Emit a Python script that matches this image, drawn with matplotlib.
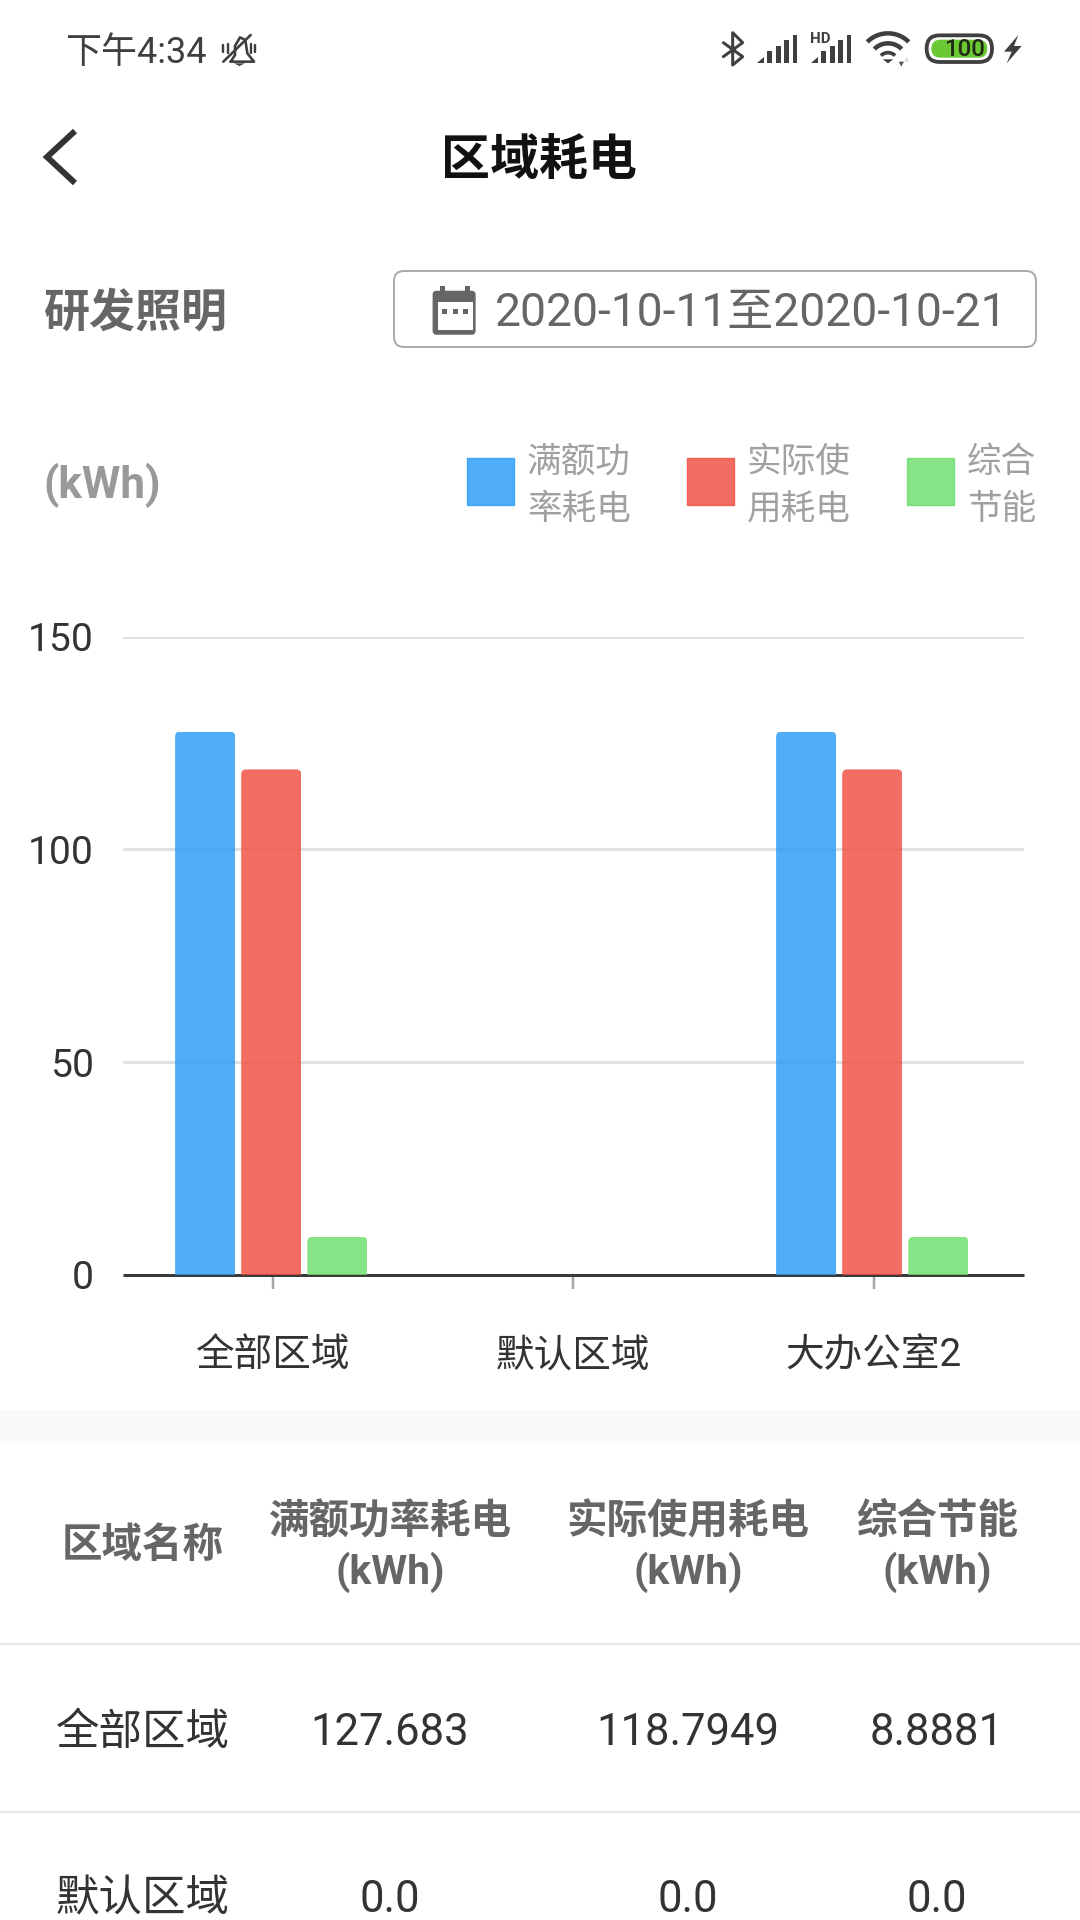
import numpy as np
import matplotlib
matplotlib.use('Agg')
import matplotlib.pyplot as plt
from matplotlib.patches import FancyBboxPatch, Rectangle, Polygon
from matplotlib.legend_handler import HandlerPatch
from matplotlib.transforms import IdentityTransform

plt.rcParams['font.family'] = ['Roboto', 'Noto Sans CJK SC', 'DejaVu Sans']

regions = ['全部区域', '默认区域', '大办公室2']
series_names = ['满额功率耗电', '实际使用耗电', '综合节能']
legend_labels = ['满额功\n率耗电', '实际使\n用耗电', '综合\n节能']
rated = [127.683, 0.0, 127.683]
actual = [118.7949, 0.0, 118.7949]
saved = [8.8881, 0.0, 8.8881]
yticks = [0, 50, 100, 150]
table_regions = ['全部区域', '默认区域']
table_rated = ['127.683', '0.0']
table_actual = ['118.7949', '0.0']
table_saved = ['8.8881', '0.0']
colors = ['#239AF5', '#F14A3B', '#68DE68']

W, H = 1080, 1920
PX = 0.72  # points per pixel at dpi 100
fig = plt.figure(figsize=(W / 100, H / 100), dpi=100, facecolor='white')

# ---- chart
x0, x1, ytop, ybot = 122.5, 1024, 636.7, 1274.7
ax = fig.add_axes([x0 / W, 1 - ybot / H, (x1 - x0) / W, (ybot - ytop) / H])
ax.patch.set_alpha(0)
ax.set_xlim(-0.5, 2.5)
ax.set_ylim(0, 150)
for s in ['top', 'left', 'right']:
    ax.spines[s].set_visible(False)
ax.spines['bottom'].set_color('#3A3A3A')
ax.spines['bottom'].set_linewidth(3 * PX)
ax.spines['bottom'].set_capstyle('butt')
ax.spines['bottom'].set_zorder(1.5)
ax.set_yticks(yticks)
ax.set_xticks(range(len(regions)))
ax.set_xticklabels(regions)
ax.tick_params(axis='y', length=0, labelsize=39 * PX, labelcolor='#333333', pad=(122.5 - 94) * PX)
ax.tick_params(axis='x', length=14 * PX, width=2.5 * PX, color='#A5A7AA',
               labelsize=38.6 * PX, labelcolor='#333333', pad=48.5 * PX)
ax.yaxis.grid(True, color='#DFE2E5', linewidth=3 * PX, zorder=0)
ax.set_axisbelow(True)

xs = np.arange(len(regions)) - 0.005
bw, off = 0.2, 0.22
containers = []
for i, (vals, c, name) in enumerate(zip([rated, actual, saved], colors, series_names)):
    containers.append(ax.bar(xs + (i - 1) * off, vals, bw, color=c, alpha=0.8, label=name, zorder=2))

# rounded top corners through a clip shape derived from each bar
fig.canvas.draw()
for cont in containers:
    for r in cont:
        if r.get_height() <= 0:
            continue
        (a, b), (c_, d) = ax.transData.transform(
            [(r.get_x(), 0), (r.get_x() + r.get_width(), r.get_height())])
        clip = FancyBboxPatch((a + 4, b - 20), c_ - a - 8, d - b + 16,
                              boxstyle='round,pad=4,rounding_size=5',
                              transform=IdentityTransform())
        r.set_clip_path(clip)

# ---- legend
def make_handle(legend, orig_handle, xdescent, ydescent, width, height, fontsize):
    return Rectangle((-xdescent, -ydescent + 2 * PX), width, width, lw=0)

fs = 34.6 * PX
handles = [Rectangle((0, 0), 1, 1, color=c, alpha=0.8) for c in colors]
leg = fig.legend(handles, legend_labels, ncol=3, frameon=False, loc='center right',
                 bbox_to_anchor=(1036 / W, 1 - 486 / H), fontsize=fs,
                 labelcolor='#A0A0A0', borderpad=0, borderaxespad=0,
                 handlelength=46.5 / 34.6, handleheight=46.5 / 34.6, handletextpad=13 / 34.6,
                 columnspacing=56.6 / 34.6,
                 handler_map={Rectangle: HandlerPatch(patch_func=make_handle)})
for t in leg.get_texts():
    t.set_linespacing(1.57)

# ---- overlay for the surrounding screen, in pixel coordinates
ov = fig.add_axes([0, 0, 1, 1], zorder=5)
ov.set_xlim(0, W)
ov.set_ylim(H, 0)
ov.axis('off')
ov.patch.set_alpha(0)

def txt(x, y, s, px, color, ha='center', weight='normal', **kw):
    return ov.text(x, y, s, fontsize=px * PX, color=color, ha=ha, va='center',
                   fontweight=weight, **kw)

def line(pts, color='#3F3F3F', lw=3, cap='round', join='round'):
    p = np.array(pts, float)
    ov.plot(p[:, 0], p[:, 1], color=color, lw=lw * PX, solid_capstyle=cap, solid_joinstyle=join)

# status bar, left
txt(65, 53, '下午4:34', 36, '#3F3F3F', ha='left')
B = lambda zx, zy: (60 + zx / 3, 20 + zy / 3)
line([B(490, 125), B(572, 45)], lw=2.6)
line([B(512, 125), B(525, 105), B(525, 78), B(540, 52), B(556, 60), B(562, 100), B(582, 125), B(512, 125)], lw=2.6)
line([B(490, 75), B(490, 95)], lw=2.4)
line([B(503, 72), B(503, 98)], lw=2.4)
line([B(572, 72), B(572, 98)], lw=2.4)
line([B(586, 75), B(586, 95)], lw=2.4)
ov.add_patch(Polygon([B(522, 130), B(555, 130), B(538, 138)], color='#3F3F3F', lw=0))

# status bar, right
S = lambda zx, zy: (710 + zx / 3, 20 + zy / 3)
line([S(40, 68), S(98, 110), S(68, 135), S(68, 38), S(98, 68), S(40, 110)], lw=3)
for dx in (0, 162):
    ov.add_patch(Polygon([S(142 + dx, 128), S(162 + dx, 128), S(162 + dx, 112)], color='#3F3F3F', lw=0))
    for bx, bt in [(172, 92), (198, 78), (223, 60), (248, 44)]:
        a, b = S(bx + dx, bt)
        ov.add_patch(Rectangle((a, b), 14 / 3, (128 - bt) / 3, color='#3F3F3F', lw=0))
hx, hy = S(332, 56)
txt(hx, hy, 'HD', 15, '#3F3F3F', weight='bold')
wc = np.array(S(534, 128))
for r, wl in [(88 / 3, 4.5), (58 / 3, 4.5), (30 / 3, 3.6)]:
    th = np.radians(np.linspace(-135, -45, 24))
    line(np.c_[wc[0] + r * np.cos(th), wc[1] + r * np.sin(th)], lw=wl, cap='butt')
ov.add_patch(Polygon([S(518, 118), S(550, 118), S(534, 130)], color='#3F3F3F', lw=0))
ov.add_patch(Polygon([S(566, 125), S(582, 125), S(574, 140)], color='#555555', lw=0))
ov.add_patch(Polygon([S(582, 125), S(598, 125), S(590, 110)], color='#DDDDDD', lw=0))
a, b = S(650, 46)
ov.add_patch(FancyBboxPatch((a + 12, b + 12), 196 / 3 - 24, 80 / 3 - 24,
                            boxstyle='round,pad=12,rounding_size=13', fc='white', ec='#3F3F3F', lw=3.8 * PX))
a, b = S(664, 59)
ov.add_patch(FancyBboxPatch((a + 8, b + 8), 168 / 3 - 16, 54 / 3 - 16,
                            boxstyle='round,pad=8,rounding_size=9', fc='#6CC832', ec='none'))
bx, by = S(762, 88)
txt(bx, by, '100', 24, '#1F2A14', weight='medium')
ov.add_patch(Polygon([S(925, 45), S(882, 95), S(905, 95), S(890, 130), S(935, 78), S(912, 78)],
                     color='#3F3F3F', lw=0))

# nav bar
line([(75, 131), (47, 157), (75, 183)], color='#333333', lw=6, cap='butt', join='miter')
txt(539, 162, '区域耗电', 49, '#111111', weight='bold')

# filter row
txt(44, 314, '研发照明', 46, '#666666', ha='left', weight='bold')
ov.add_patch(FancyBboxPatch((404, 281), 622, 56, boxstyle='round,pad=10,rounding_size=10',
                            fc='white', ec='#ABABAB', lw=2 * PX))
C = lambda zx, zy: (420 + zx * 70 / 200, 275 + zy * 70 / 200)
a, b = C(36, 45)
ov.add_patch(FancyBboxPatch((a + 4, b + 4), 43 - 8, 44 - 8, boxstyle='round,pad=4,rounding_size=4',
                            fc='#666666', ec='none'))
for zx in (57, 128):
    a, b = C(zx, 30)
    ov.add_patch(Rectangle((a, b), 5, 7, color='#666666', lw=0))
a, b = C(50, 78)
ov.add_patch(Rectangle((a, b), 35, 28, color='white', lw=0))
for zx in (64, 93, 122):
    a, b = C(zx, 96)
    ov.add_patch(Rectangle((a, b), 5, 5, color='#666666', lw=0))
txt(495, 313, '2020-10-11至2020-10-21', 46.2, '#666666', ha='left')

# unit label
txt(43, 485, '(kWh)', 44, '#999999', ha='left', weight='bold')

# table
ov.add_patch(Rectangle((0, 1410), W, 33, color='#F8F9FB', lw=0))
cols = [143, 390, 688, 937]
txt(cols[0], 1546, '区域名称', 40.5, '#666666', weight='bold')
for cx, name in zip(cols[1:], series_names):
    txt(cx, 1522, name, 40.5, '#666666', weight='bold')
    txt(cx, 1572, '(kWh)', 41, '#666666', weight='bold')
for ly in (1644, 1812):
    ov.plot([0, W], [ly, ly], color='#E6E9EA', lw=2 * PX)
for ry, rname, v1, v2, v3 in zip((1733, 1900), table_regions, table_rated, table_actual, table_saved):
    txt(cols[0], ry, rname, 43.5, '#333333')
    txt(cols[1], ry, v1, 43.7, '#333333')
    txt(cols[2], ry, v2, 43.7, '#333333')
    txt(cols[3], ry, v3, 43.7, '#333333')

fig.savefig('out.png', dpi=100, facecolor='white')
